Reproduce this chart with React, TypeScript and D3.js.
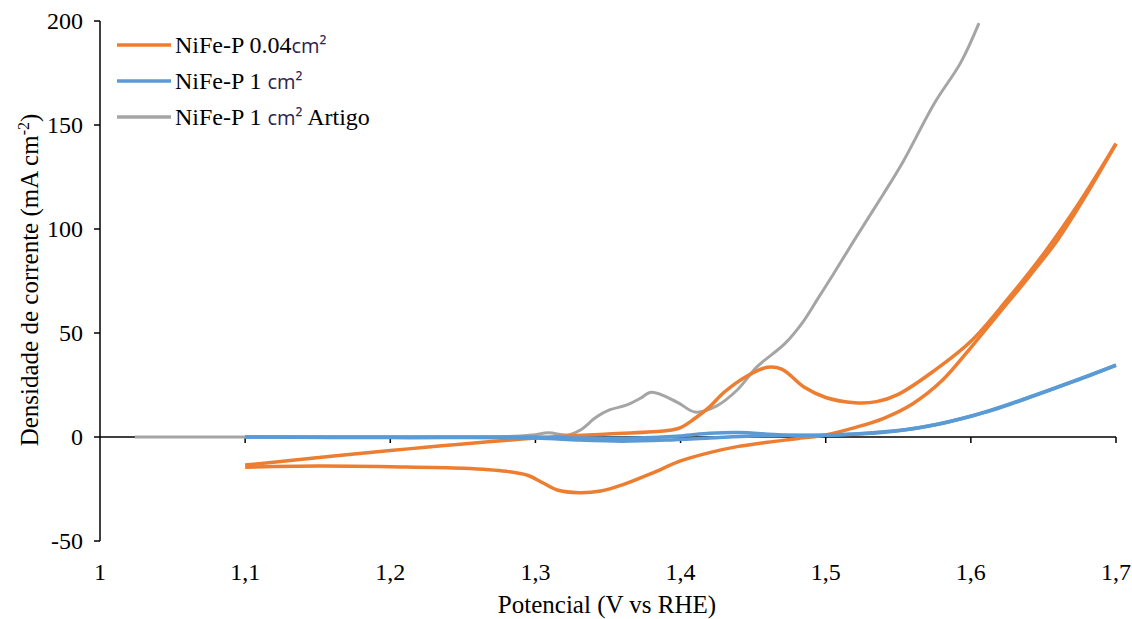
import React from "react";
import * as d3 from "d3";

// NiFe-P 0.04 cm2 - cyclic sweep, forward then reverse (V, mA cm-2)
const orangeForward: [number, number][] = [
  [1.1, -13.5], [1.2, -6.5], [1.3, -0.5], [1.35, 1.5], [1.39, 3], [1.4, 4.5],
  [1.41, 9], [1.42, 14.5], [1.43, 21.5], [1.445, 29], [1.46, 33.5], [1.47, 32.5],
  [1.485, 24], [1.5, 19], [1.52, 16.5], [1.535, 17], [1.55, 20.5], [1.575, 32],
  [1.6, 46], [1.625, 66], [1.65, 88], [1.675, 113], [1.7, 141],
];
const orangeReverse: [number, number][] = [
  [1.7, 141], [1.68, 117], [1.66, 95], [1.64, 77], [1.62, 60], [1.6, 43],
  [1.58, 27], [1.56, 16], [1.54, 9], [1.52, 4.5], [1.5, 1], [1.48, -0.8],
  [1.46, -2.5], [1.44, -4.5], [1.42, -7.5], [1.4, -11.5], [1.38, -17.5],
  [1.36, -23], [1.345, -26], [1.33, -26.8], [1.315, -25.5], [1.305, -22],
  [1.295, -18.5], [1.28, -16.5], [1.25, -15], [1.2, -14.3], [1.15, -14], [1.1, -14.5],
];

// NiFe-P 1 cm2
const blueForward: [number, number][] = [
  [1.1, 0], [1.2, -0.3], [1.3, -0.5], [1.33, -1.5], [1.36, -2], [1.39, -1.5],
  [1.42, -0.5], [1.45, 0.5], [1.48, 0.8], [1.5, 1], [1.52, 1.5], [1.54, 2.5],
  [1.56, 4], [1.58, 6.5], [1.6, 10], [1.62, 14], [1.64, 19], [1.66, 24],
  [1.68, 29], [1.7, 34.5],
];
const blueReverse: [number, number][] = [
  [1.7, 34.5], [1.6, 10], [1.55, 3], [1.5, 0.8], [1.47, 1], [1.44, 2.2],
  [1.42, 1.8], [1.4, 0.5], [1.37, -0.5], [1.33, -0.5], [1.3, 0], [1.2, 0], [1.1, 0],
];

// NiFe-P 1 cm2 Artigo
const grayCurve: [number, number][] = [
  [1.024, 0], [1.1, 0], [1.2, 0], [1.28, 0.2], [1.298, 1], [1.309, 2],
  [1.322, 1], [1.331, 3.4], [1.342, 9.6], [1.351, 13], [1.363, 15.4],
  [1.372, 18.5], [1.38, 21.5], [1.3975, 16.8], [1.41, 12], [1.425, 15],
  [1.439, 22.6], [1.4526, 33.7], [1.472, 45], [1.485, 56], [1.495, 67],
  [1.505, 78], [1.52, 95], [1.539, 116], [1.553, 132], [1.575, 160.6],
  [1.593, 180], [1.6056, 199],
];

const xTicks = [1, 1.1, 1.2, 1.3, 1.4, 1.5, 1.6, 1.7];
const yTicks = [-50, 0, 50, 100, 150, 200];

const legendItems = [
  { pre: "NiFe-P 0.04", post: "", color: "#ED7D31" },
  { pre: "NiFe-P 1 ", post: "", color: "#5B9BD5" },
  { pre: "NiFe-P 1 ", post: " Artigo", color: "#A5A5A5" },
];

const W = 1132;
const H = 619;
const serif = "'Liberation Serif', 'Times New Roman', serif";

export default function App() {
  const x = d3.scaleLinear().domain([1, 1.7]).range([100, 1116]);
  const y = d3.scaleLinear().domain([-50, 200]).range([541, 21]);
  const line = d3
    .line<[number, number]>()
    .x((d) => x(d[0]))
    .y((d) => y(d[1]))
    .curve(d3.curveCatmullRom.alpha(0.5));

  const fmt = (v: number) => (v === 1 ? "1" : v.toFixed(1).replace(".", ","));

  return (
    <svg
      width={W}
      height={H}
      style={{ position: "absolute", left: 0, top: 0, background: "#fff" }}
      fontFamily={serif}
    >
      {/* x axis at y = 0 */}
      <line x1={x(1)} x2={x(1.7)} y1={y(0)} y2={y(0)} stroke="#000" strokeWidth={1.5} />
      {xTicks.slice(1).map((t) => (
        <line key={t} x1={x(t)} x2={x(t)} y1={y(0)} y2={y(0) + 6} stroke="#000" strokeWidth={1.5} />
      ))}
      {xTicks.map((t) => (
        <text key={t} x={x(t)} y={580} fontSize={24} textAnchor="middle">
          {fmt(t)}
        </text>
      ))}
      {/* y axis */}
      <line x1={x(1)} x2={x(1)} y1={y(200)} y2={y(-50)} stroke="#000" strokeWidth={1.5} />
      {yTicks.map((t) => (
        <g key={t}>
          <line x1={x(1) - 6} x2={x(1)} y1={y(t)} y2={y(t)} stroke="#000" strokeWidth={1.5} />
          <text x={83} y={y(t)} dy="0.33em" fontSize={24} textAnchor="end">
            {t}
          </text>
        </g>
      ))}

      <path d={line(grayCurve) ?? ""} fill="none" stroke="#A5A5A5" strokeWidth={3} />
      <path d={line(orangeForward) ?? ""} fill="none" stroke="#ED7D31" strokeWidth={3.5} />
      <path d={line(orangeReverse) ?? ""} fill="none" stroke="#ED7D31" strokeWidth={3.5} />
      <path d={line(blueForward) ?? ""} fill="none" stroke="#5B9BD5" strokeWidth={3.5} />
      <path d={line(blueReverse) ?? ""} fill="none" stroke="#5B9BD5" strokeWidth={3.5} />

      {/* legend */}
      {legendItems.map((d, i) => (
        <g key={i} transform={`translate(0, ${45 + i * 36})`}>
          <line x1={117} x2={171} y1={0} y2={0} stroke={d.color} strokeWidth={3.5} />
          <text x={175} y={0} dy="0.33em" fontSize={24}>
            {d.pre}
            <tspan fontFamily="'Open Sans', sans-serif" fontSize={20} fill="#2b2450">
              cm²
            </tspan>
            {d.post}
          </text>
        </g>
      ))}

      {/* axis titles */}
      <text x={607} y={613} fontSize={25} textAnchor="middle">
        Potencial (V vs RHE)
      </text>
      <text transform="translate(38, 280) rotate(-90)" fontSize={25} textAnchor="middle">
        Densidade de corrente (mA cm
        <tspan dy={-9} fontSize={16}>
          -2
        </tspan>
        <tspan dy={9}>)</tspan>
      </text>
    </svg>
  );
}
